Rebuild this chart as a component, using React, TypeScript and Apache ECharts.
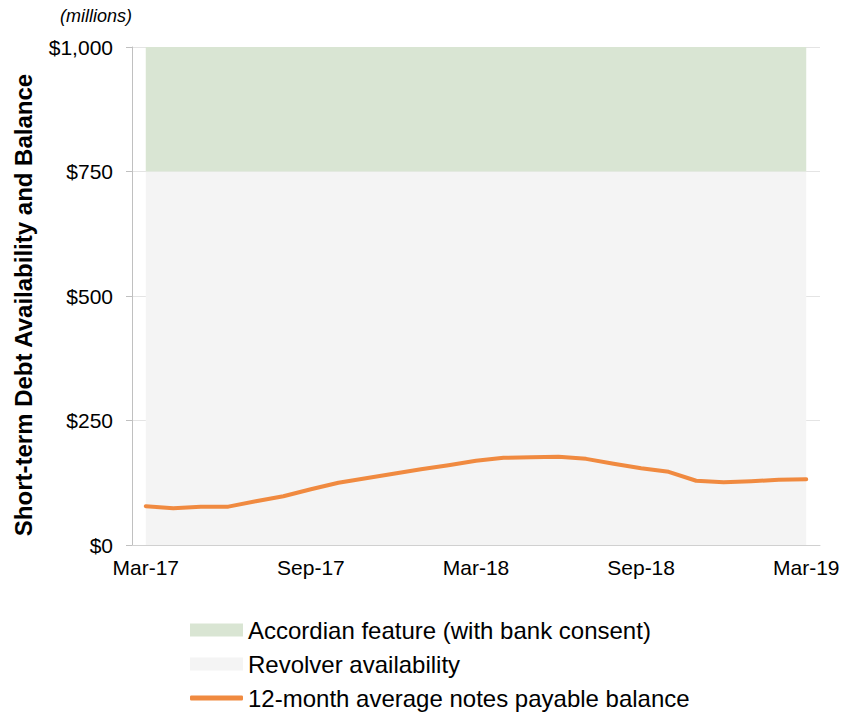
import React, { useEffect, useRef } from "react";
import * as echarts from "echarts";

const months: string[] = [
  "Mar-17", "Apr-17", "May-17", "Jun-17", "Jul-17", "Aug-17", "Sep-17", "Oct-17", "Nov-17", "Dec-17", "Jan-18", "Feb-18",
  "Mar-18", "Apr-18", "May-18", "Jun-18", "Jul-18", "Aug-18", "Sep-18", "Oct-18", "Nov-18", "Dec-18", "Jan-19", "Feb-19", "Mar-19",
];

const revolverAvailability: number[] = [
  750, 750, 750, 750, 750, 750, 750, 750, 750, 750, 750, 750, 750,
  750, 750, 750, 750, 750, 750, 750, 750, 750, 750, 750, 750,
];

const accordionFeature: number[] = [
  250, 250, 250, 250, 250, 250, 250, 250, 250, 250, 250, 250, 250,
  250, 250, 250, 250, 250, 250, 250, 250, 250, 250, 250, 250,
];

const notesPayableAvg: number[] = [
  78, 74, 77, 77, 88, 98, 112, 125, 134, 143, 152, 160, 169,
  175, 176, 177, 173, 163, 154, 147, 129, 126, 128, 131, 132,
];

const yTicks: number[] = [0, 250, 500, 750, 1000];

const NAME_ACC = "Accordian feature (with bank consent)";
const NAME_REV = "Revolver availability";
const NAME_LINE = "12-month average notes payable balance";

const FONT = "Liberation Sans, Arial, Helvetica, sans-serif";
const GREEN = "#d9e5d3";
const GRAY = "#f4f4f4";
const ORANGE = "#f08a40";

export default function App() {
  const ref = useRef<HTMLDivElement>(null);

  useEffect(() => {
    if (!ref.current) return;
    const chart = echarts.init(ref.current, null, { renderer: "svg" });
    const legendBase = {
      orient: "vertical" as const,
      left: 190,
      itemGap: 0,
      selectedMode: false,
      textStyle: { fontFamily: FONT, fontSize: 24, color: "#000", padding: [0, 0, 0, 0] },
      padding: 0,
      itemWidth: 53,
    };
    chart.setOption({
      animation: false,
      textStyle: { fontFamily: FONT },
      grid: { left: 132, right: 23, top: 47, bottom: 167, containLabel: false },
      graphic: [
        {
          type: "text",
          left: 60,
          top: 7,
          style: {
            text: "(millions)",
            font: `italic 18px ${FONT}`,
            fill: "#000",
          },
        },
      ],
      legend: [
        {
          ...legendBase,
          top: 618,
          itemHeight: 13,
          data: [{ name: NAME_ACC, icon: "rect", itemStyle: { color: GREEN } }],
        },
        {
          ...legendBase,
          top: 652,
          itemHeight: 13,
          data: [{ name: NAME_REV, icon: "rect", itemStyle: { color: GRAY } }],
        },
        {
          ...legendBase,
          top: 686,
          itemHeight: 5,
          data: [{ name: NAME_LINE, icon: "roundRect", itemStyle: { color: ORANGE } }],
        },
      ],
      xAxis: {
        type: "category",
        data: months,
        boundaryGap: true,
        axisLine: { show: true, lineStyle: { color: "#d0d0d0", width: 1 } },
        axisTick: { show: false },
        axisLabel: {
          interval: 5,
          margin: 12,
          fontSize: 21,
          color: "#000",
          fontFamily: FONT,
        },
        splitLine: { show: false },
      },
      yAxis: {
        type: "value",
        min: yTicks[0],
        max: yTicks[yTicks.length - 1],
        interval: 250,
        name: "Short-term Debt Availability and Balance",
        nameLocation: "middle",
        nameGap: 97,
        nameRotate: 90,
        nameTextStyle: {
          fontFamily: FONT,
          fontSize: 24,
          fontWeight: "bold",
          color: "#000",
          padding: [0, 18, 0, 0],
        },
        axisLine: { show: true, lineStyle: { color: "#c0c0c0", width: 1 } },
        axisTick: { show: true, length: 6, lineStyle: { color: "#c0c0c0" } },
        axisLabel: {
          margin: 19,
          fontSize: 21,
          color: "#000",
          fontFamily: FONT,
          formatter: (v: number) => "$" + v.toLocaleString("en-US"),
        },
        splitLine: { show: true, lineStyle: { color: "#e4e4e4", width: 1 } },
      },
      series: [
        {
          name: NAME_REV,
          type: "line",
          stack: "avail",
          data: revolverAvailability,
          symbol: "none",
          lineStyle: { width: 0, opacity: 0 },
          itemStyle: { color: GRAY },
          areaStyle: { color: GRAY, opacity: 1 },
          z: 1,
        },
        {
          name: NAME_ACC,
          type: "line",
          stack: "avail",
          data: accordionFeature,
          symbol: "none",
          lineStyle: { width: 0, opacity: 0 },
          itemStyle: { color: GREEN },
          areaStyle: { color: GREEN, opacity: 1 },
          z: 1,
        },
        {
          name: NAME_LINE,
          type: "line",
          data: notesPayableAvg,
          symbol: "none",
          lineStyle: { color: ORANGE, width: 4, cap: "round", join: "round" },
          itemStyle: { color: ORANGE },
          z: 3,
        },
      ],
    });
    return () => chart.dispose();
  }, []);

  return (
    <div
      ref={ref}
      style={{ position: "absolute", left: 0, top: 0, width: 843, height: 712, background: "#fff" }}
    />
  );
}
